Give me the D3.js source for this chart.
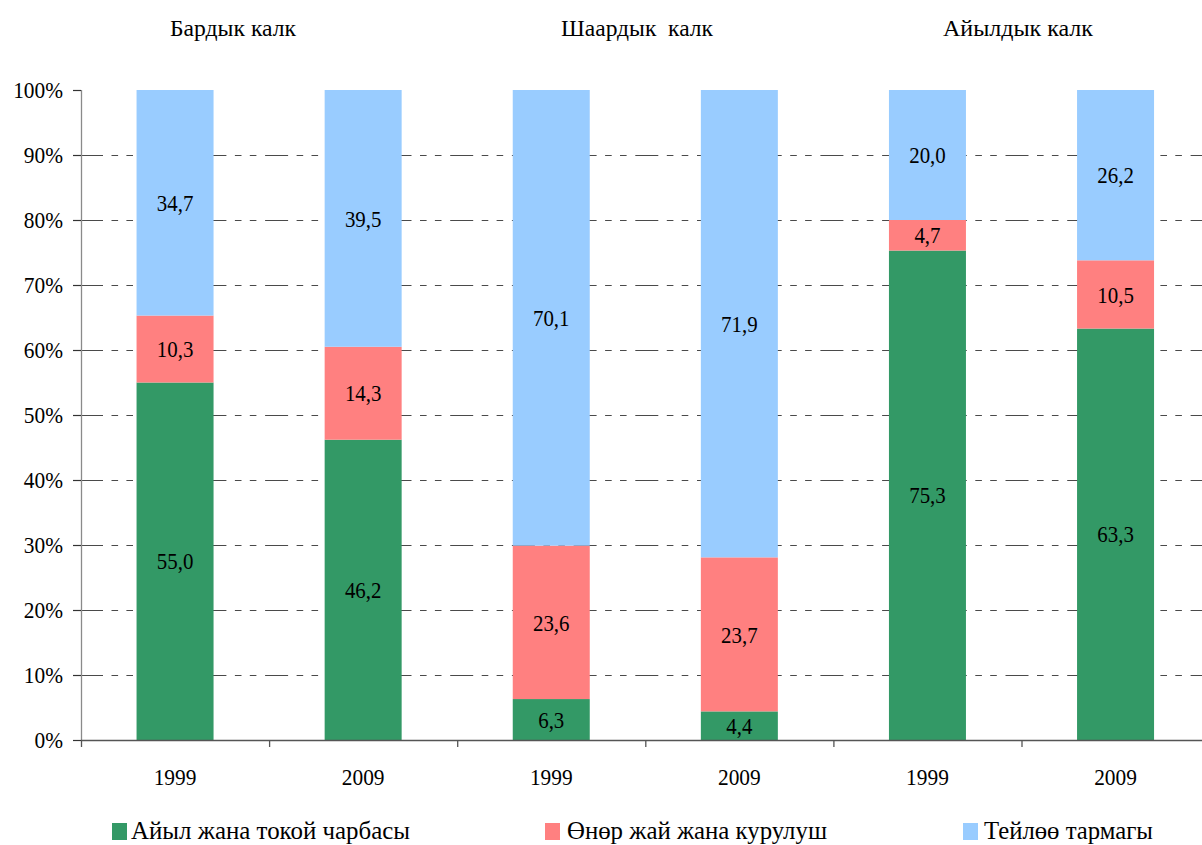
<!DOCTYPE html>
<html><head><meta charset="utf-8">
<script src="https://cdn.jsdelivr.net/npm/d3@7"></script>
<style>
html,body{margin:0;padding:0;background:#fff;overflow:hidden;}
text{font-family:"Liberation Serif","Times New Roman",serif;fill:#000;}
</style></head>
<body>
<svg id="chart" width="1202" height="845"></svg>
<script>
// ---- data ----
const groups = ["Бардык калк", "Шаардык  калк", "Айылдык калк"];
const years = ["1999", "2009", "1999", "2009", "1999", "2009"];
const seriesNames = ["Айыл жана токой чарбасы", "Өнөр жай жана курулуш", "Тейлөө тармагы"];
const agriculture = [55.0, 46.2, 6.3, 4.4, 75.3, 63.3];
const industry    = [10.3, 14.3, 23.6, 23.7, 4.7, 10.5];
const services    = [34.7, 39.5, 70.1, 71.9, 20.0, 26.2];
const yTicks = [0, 10, 20, 30, 40, 50, 60, 70, 80, 90, 100];
const colors = ["#339966", "#FF8080", "#99CCFF"];

// ---- layout ----
const svg = d3.select("#chart");
const x0 = 81, step = 188.1, yTop = 90, yBot = 740;
const idx = d3.range(years.length);
const x = d3.scaleBand().domain(idx).range([x0, x0 + step * idx.length])
  .paddingInner(1 - 77 / 188.1).paddingOuter((1 - 77 / 188.1) / 2);
const y = d3.scaleLinear().domain([0, 100]).range([yBot, yTop]);
const fmt = v => d3.format(".1f")(v).replace(".", ",");

// gridlines
svg.append("g").selectAll("line").data(yTicks.filter(t => t > 0 && t < 100)).join("line")
  .attr("x1", x0 - 1).attr("x2", 1202)
  .attr("y1", d => Math.round(y(d)) + 0.5).attr("y2", d => Math.round(y(d)) + 0.5)
  .attr("stroke", "#4a4a4a").attr("stroke-width", 1.2)
  .attr("stroke-dasharray", "23,8.5,6.6,8.3,6.6,8.7");

// stacked bars
const table = idx.map(i => ({i, a: agriculture[i], b: industry[i], c: services[i]}));
const stack = d3.stack().keys(["a", "b", "c"])(table);
const layers = svg.append("g").selectAll("g").data(stack).join("g")
  .attr("fill", (d, k) => colors[k]);
layers.selectAll("rect").data(d => d).join("rect")
  .attr("x", d => x(d.data.i)).attr("width", x.bandwidth())
  .attr("y", d => y(d[1])).attr("height", d => y(d[0]) - y(d[1]));

// data labels
layers.each(function(layer) {
  d3.select(this).selectAll("text").data(layer).join("text")
    .attr("text-anchor", "middle")
    .attr("font-size", 24)
    .attr("transform", d => `translate(${x(d.data.i) + x.bandwidth() / 2},${(y(d[0]) + y(d[1])) / 2 + 8.2}) scale(0.87,1)`)
    .text(d => fmt(d[1] - d[0]));
});

// left axis
svg.append("line").attr("x1", x0 + 0.5).attr("x2", x0 + 0.5).attr("y1", yTop).attr("y2", yBot)
  .attr("stroke", "#8a8a8a").attr("stroke-width", 1.3);
svg.append("g").selectAll("line").data(yTicks).join("line")
  .attr("x1", x0 - 8).attr("x2", x0).attr("y1", d => Math.round(y(d)) + 0.5).attr("y2", d => Math.round(y(d)) + 0.5)
  .attr("stroke", "#333").attr("stroke-width", 1.2);
svg.append("g").selectAll("text").data(yTicks).join("text")
  .attr("text-anchor", "end").attr("font-size", 23)
  .attr("transform", d => `translate(63,${y(d) + 7.5}) scale(0.93,1)`)
  .text(d => d + "%");

// bottom axis
svg.append("line").attr("x1", x0).attr("x2", 1202).attr("y1", yBot + 0.5).attr("y2", yBot + 0.5)
  .attr("stroke", "#555").attr("stroke-width", 1.4);
svg.append("g").selectAll("line").data(d3.range(years.length + 1)).join("line")
  .attr("x1", d => x0 + 0.5 + d * step).attr("x2", d => x0 + 0.5 + d * step)
  .attr("y1", yBot).attr("y2", yBot + 7).attr("stroke", "#555").attr("stroke-width", 1.3);
svg.append("g").selectAll("text").data(idx).join("text")
  .attr("text-anchor", "middle").attr("font-size", 23)
  .attr("transform", d => `translate(${x(d) + x.bandwidth() / 2},785) scale(0.93,1)`)
  .text(d => years[d]);

// group titles
const titleX = [170, 561, 943], titleW = [126, 152, 150];
svg.append("g").selectAll("text").data(groups).join("text")
  .attr("x", (d, i) => titleX[i]).attr("y", 36).attr("font-size", 23)
  .attr("textLength", (d, i) => titleW[i]).attr("lengthAdjust", "spacingAndGlyphs")
  .style("white-space", "pre")
  .text(d => d);

// legend
const legX = [112, 545, 963], legTextX = [131, 567, 984], legW = [279, 260, 169];
const leg = svg.append("g");
leg.selectAll("rect").data(seriesNames).join("rect")
  .attr("x", (d, i) => legX[i]).attr("y", 823).attr("width", 15).attr("height", 17)
  .attr("fill", (d, i) => colors[i]);
leg.selectAll("text").data(seriesNames).join("text")
  .attr("x", (d, i) => legTextX[i]).attr("y", 839).attr("font-size", 26)
  .attr("textLength", (d, i) => legW[i]).attr("lengthAdjust", "spacingAndGlyphs")
  .text(d => d);
</script>
</body></html>
